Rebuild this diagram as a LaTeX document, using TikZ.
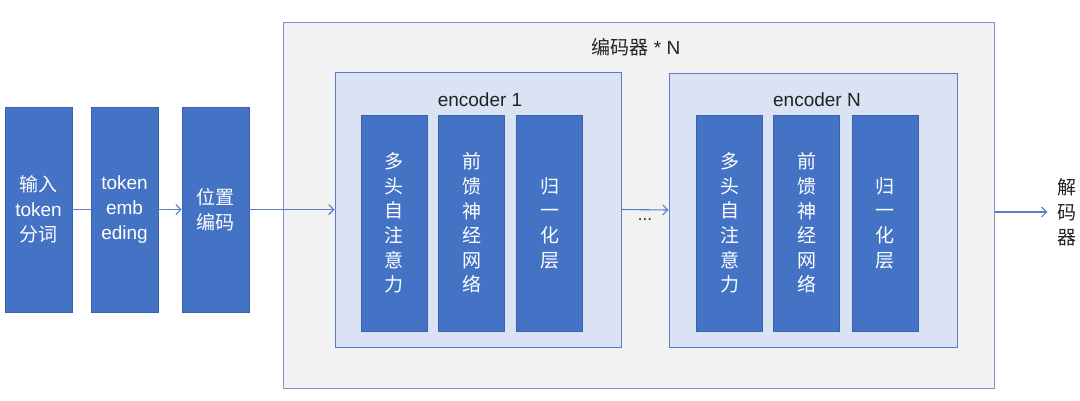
\documentclass[tikz,border=0pt]{standalone}
\usepackage{fontspec}
\setmainfont{Liberation Sans}
\newfontfamily\cjk{Noto Sans CJK SC}
\usetikzlibrary{positioning,arrows.meta}
\definecolor{blockblue}{HTML}{4472C4}
\definecolor{blockedge}{HTML}{3A62AE}
\definecolor{encfill}{HTML}{DAE3F3}
\definecolor{encedge}{HTML}{5B7BC8}
\definecolor{outerfill}{HTML}{F2F2F2}
\definecolor{outeredge}{HTML}{7D93CC}
\definecolor{labeltext}{HTML}{222222}

\begin{document}
\begin{tikzpicture}[x=1pt,y=-1pt,
  block/.style={draw=blockedge,line width=0.8pt,fill=blockblue,text=white,
    inner sep=0pt,align=center,minimum width=67pt,minimum height=205pt,
    font=\fontsize{19}{25}\selectfont},
  sublayer/.style={block,minimum width=66pt,minimum height=216pt,
    font=\cjk\fontsize{19}{24.6}\selectfont},
  encbox/.style={draw=encedge,line width=1pt,fill=encfill,inner sep=0pt},
  label/.style={text=labeltext,inner sep=0pt,font=\fontsize{19}{25}\selectfont},
  flow/.style={draw=encedge,line width=1.1pt,-{Straight Barb[length=5pt,width=10pt]}}
]
  \useasboundingbox (0,0) rectangle (1080,400);

  \node[block] (tok)  at (38.5,209.5)  {{\cjk 输入}\\token\\{\cjk 分词}};
  \node[block] (emb)  at (124.5,209.5) {token\\emb\\eding};
  \node[block] (pos)  at (215.5,209.5) {{\cjk 位置}\\{\cjk 编码}};

  \node[draw=outeredge,line width=1pt,fill=outerfill,inner sep=0pt,
        minimum width=711pt,minimum height=366pt] (outer) at (638.5,205) {};
  \node[label] (title) at (636,47) {{\cjk 编码器} * N};

  \node[encbox,minimum width=286pt,minimum height=275pt] (enc1) at (478,209.5) {};
  \node[encbox,minimum width=288pt,minimum height=274pt] (encN) at (813,210) {};
  \node[label] (enc1label) at (480,100) {encoder 1};
  \node[label] (encNlabel) at (817,100) {encoder N};

  \node[sublayer] (att1) at (394,223)   {多\\头\\自\\注\\意\\力};
  \node[sublayer] (ffn1) at (471.5,223) {前\\馈\\神\\经\\网\\络};
  \node[sublayer] (nrm1) at (549.5,223) {归\\一\\化\\层};
  \node[sublayer] (attN) at (729.5,223) {多\\头\\自\\注\\意\\力};
  \node[sublayer] (ffnN) at (806.5,223) {前\\馈\\神\\经\\网\\络};
  \node[sublayer] (nrmN) at (885,223)   {归\\一\\化\\层};

  \node[label,font=\fontsize{17}{17}\selectfont] (dots) at (645,220) {...};
  \node[label,align=center,inner sep=10pt,font=\cjk\fontsize{19}{25}\selectfont] (dec) at (1067,212) {解\\码\\器};

  \draw[draw=encedge,line width=1.1pt] (tok.east) -- (emb.west);
  \draw[flow] (emb.east) -- (pos.west);
  \draw[flow] (pos.east) -- (enc1.west);
  \draw[flow] (enc1.east) -- (encN.west);
  \draw[flow] (outer.east |- dec.west) -- (dec.west);
\end{tikzpicture}
\end{document}
